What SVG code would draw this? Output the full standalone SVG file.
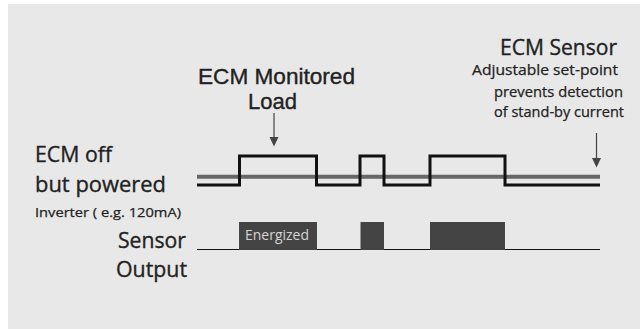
<svg xmlns="http://www.w3.org/2000/svg" width="640" height="329" viewBox="0 0 640 329">
<style>
.t{font-family:"Open Sans","Noto Sans","Liberation Sans",sans-serif;fill:#222;stroke:#222;stroke-width:0.35}
.big{font-size:22px}
.mid{font-size:14px;stroke-width:0.25}
.sm{font-size:13.5px;stroke-width:0.25}
.lib{font-family:"Liberation Sans",Arial,sans-serif}
.arrow{stroke:#444;stroke-width:1.2;fill:none}
.head{fill:#444}
.box{fill:#444}
</style>
<rect x="0" y="0" width="640" height="329" fill="#ffffff"/>
<rect x="8" y="4" width="632" height="325" fill="#e8e8e8"/>

<g id="connectors">
  <line class="arrow" x1="274" y1="113" x2="274" y2="139"/>
  <polygon class="head" points="269.5,137 278.5,137 274,146.5"/>
  <line class="arrow" x1="596.5" y1="133" x2="596.5" y2="160"/>
  <polygon class="head" points="592,158 601,158 596.5,167.5"/>
</g>

<g id="waveform-load">
  <line x1="197" y1="176.7" x2="600" y2="176.7" stroke="#666" stroke-width="4"/>
  <path d="M197,185 H239.5 V156 H316.5 V185 H360 V156 H384 V185 H430 V156 H505 V185 H600" fill="none" stroke="#111" stroke-width="3" stroke-linejoin="miter"/>
</g>

<g id="waveform-sensor">
  <line x1="197" y1="249.5" x2="600" y2="249.5" stroke="#111" stroke-width="1.2"/>
  <rect class="box" x="239" y="222" width="78" height="28"/>
  <rect class="box" x="360.5" y="222" width="23.5" height="28"/>
  <rect class="box" x="430" y="222" width="75" height="28"/>
  <text x="245" y="240" font-family="Open Sans, Noto Sans, sans-serif" font-size="14" fill="#d4d4d4" textLength="64" lengthAdjust="spacingAndGlyphs">Energized</text>
</g>

<g id="label-monitored-load">
  <text class="t big lib" x="198" y="83.5" textLength="157" lengthAdjust="spacingAndGlyphs">ECM Monitored</text>
  <text class="t big lib" x="248" y="108.5" textLength="49" lengthAdjust="spacingAndGlyphs">Load</text>
</g>

<g id="label-ecm-sensor">
  <text class="t" font-size="21" x="500" y="55" textLength="117" lengthAdjust="spacingAndGlyphs">ECM Sensor</text>
  <text class="t mid" x="472" y="75" textLength="146" lengthAdjust="spacingAndGlyphs">Adjustable set-point</text>
  <text class="t mid" x="494" y="97" textLength="129" lengthAdjust="spacingAndGlyphs">prevents detection</text>
  <text class="t mid" x="494" y="117" textLength="130" lengthAdjust="spacingAndGlyphs">of stand-by current</text>
</g>

<g id="label-ecm-off">
  <text class="t big" x="35" y="162" textLength="77" lengthAdjust="spacingAndGlyphs">ECM off</text>
  <text class="t big" x="35" y="192" textLength="131" lengthAdjust="spacingAndGlyphs">but powered</text>
  <text class="t sm" x="35" y="217" textLength="146" lengthAdjust="spacingAndGlyphs">Inverter ( e.g. 120mA)</text>
</g>

<g id="label-sensor-output">
  <text class="t big" x="118" y="248" textLength="68" lengthAdjust="spacingAndGlyphs">Sensor</text>
  <text class="t big" x="116" y="277" textLength="71" lengthAdjust="spacingAndGlyphs">Output</text>
</g>
</svg>
